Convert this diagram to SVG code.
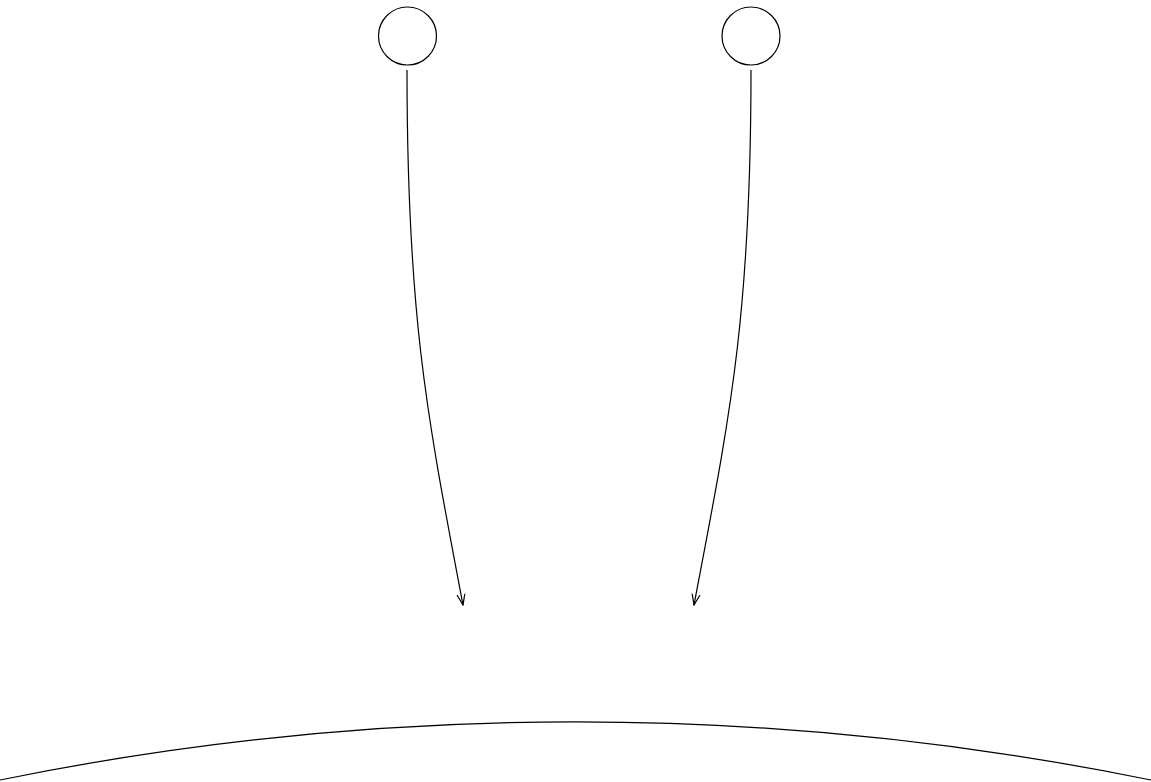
<svg xmlns="http://www.w3.org/2000/svg" width="1151" height="782" viewBox="0 0 1151 782">
<defs>
<style>
.n{fill:none;stroke:#000;stroke-width:1.2}
.e{fill:none;stroke:#000;stroke-width:1.2}
</style>
<marker id="a" markerWidth="12" markerHeight="12" refX="11" refY="6" orient="auto" markerUnits="userSpaceOnUse">
<path d="M0,2 L11,6 L0,10" fill="none" stroke="#000" stroke-width="1.2"/>
</marker>
</defs>
<rect width="1151" height="782" fill="#fff"/>
<g id="node1"><circle class="n" cx="407.5" cy="36" r="29"/></g>
<g id="node2"><circle class="n" cx="751" cy="36" r="29"/></g>
<g id="node3"><path class="n" d="M0,780 A2879,2879 0 0 1 1151,780"/></g>
<g id="connectors">
<path class="e" d="M407,70 C407,320 428,420 463,605" marker-end="url(#a)"/>
<path class="e" d="M751,70 C751,320 729,420 694,605" marker-end="url(#a)"/>
</g>
</svg>
